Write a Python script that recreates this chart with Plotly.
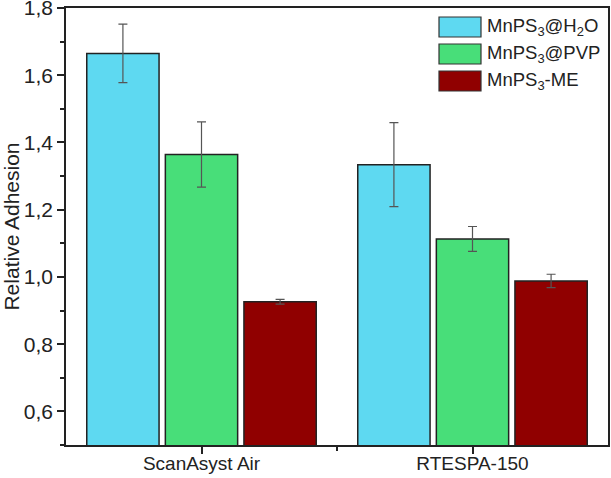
import plotly.graph_objects as go

categories = ["ScanAsyst Air", "RTESPA-150"]
series_names = ["MnPS<sub>3</sub>@H<sub>2</sub>O", "MnPS<sub>3</sub>@PVP", "MnPS<sub>3</sub>-ME"]
values = [
    [1.665, 1.334],
    [1.364, 1.113],
    [0.926, 0.988],
]
errors = [
    [0.087, 0.125],
    [0.097, 0.037],
    [0.007, 0.020],
]
colors = ["#5ED9F1", "#48DE79", "#900000"]
ytick_vals = [0.6, 0.8, 1.0, 1.2, 1.4, 1.6, 1.8]
ytick_text = ["0,6", "0,8", "1,0", "1,2", "1,4", "1,6", "1,8"]

FONT = "Liberation Sans, Arial, sans-serif"
W, H = 611, 478
L, R, T, B = 66, 3, 8, 33

fig = go.Figure()
xpos = list(range(len(categories)))
for name, vals, errs, col in zip(series_names, values, errors, colors):
    fig.add_trace(go.Bar(
        x=xpos, y=vals, name=name,
        marker=dict(color=col, line=dict(color="#222222", width=1.5)),
        error_y=dict(type="data", array=errs, visible=True,
                     color="#555555", thickness=1.2, width=4.5),
        showlegend=False,
    ))

fig.update_layout(
    width=W, height=H,
    margin=dict(l=L, r=R, t=T, b=B),
    barmode="group", bargap=0.13, bargroupgap=0.08,
    plot_bgcolor="white", paper_bgcolor="white",
    font=dict(family=FONT, size=18, color="#222222"),
)
fig.update_xaxes(
    range=[-0.5, 1.5], automargin=False,
    tickvals=xpos, ticktext=categories,
    ticks="outside", ticklen=7, tickwidth=1.5, tickcolor="#222",
    ticklabelstandoff=-7,
    minor=dict(tickvals=[0.5], ticks="outside", ticklen=4, tickwidth=1.5, tickcolor="#222"),
    showline=True, linecolor="#222", linewidth=1.5, mirror=True,
    showgrid=False, zeroline=False,
    tickfont=dict(size=19),
)
fig.update_yaxes(
    range=[0.5, 1.8], automargin=False,
    tickvals=ytick_vals, ticktext=ytick_text,
    ticks="outside", ticklen=7, tickwidth=1.5, tickcolor="#222",
    ticklabeloverflow="allow",
    minor=dict(dtick=0.1, tick0=0.5, ticks="outside", ticklen=4, tickwidth=1.5, tickcolor="#222"),
    showline=True, linecolor="#222", linewidth=1.5, mirror=True,
    showgrid=False, zeroline=False,
    title=dict(text="Relative Adhesion", font=dict(size=21), standoff=6),
    tickfont=dict(size=21),
)

# custom legend (large swatches like the reference)
pw, ph = W - L - R, H - T - B
def px_x(p):
    return (p - L) / pw
def px_y(p):
    return 1 - (p - T) / ph

row_centers = [27, 54, 81]
for name, col, yc in zip(series_names, colors, row_centers):
    fig.add_shape(type="rect", xref="paper", yref="paper",
                  x0=px_x(439), x1=px_x(481), y0=px_y(yc + 10), y1=px_y(yc - 10),
                  fillcolor=col, line=dict(color="#333333", width=1.2))
    fig.add_annotation(xref="paper", yref="paper", x=px_x(485), y=px_y(yc),
                       text=name, showarrow=False, xanchor="left", yanchor="middle",
                       font=dict(size=18.5, color="#222222"))

fig.write_html("out.html")
